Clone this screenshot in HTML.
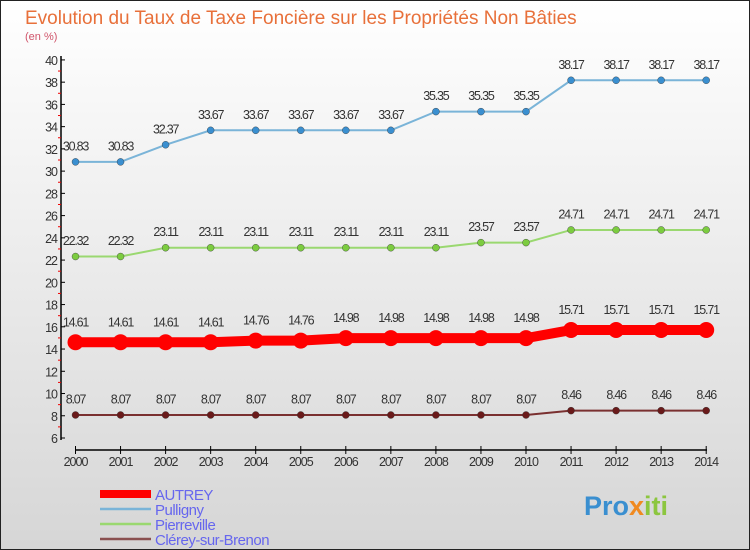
<!DOCTYPE html>
<html><head><meta charset="utf-8"><style>
body{margin:0;width:750px;height:550px;overflow:hidden;font-family:"Liberation Sans",sans-serif}
#c{position:absolute;left:0;top:0}
</style></head><body>
<svg id="c" width="750" height="550" xmlns="http://www.w3.org/2000/svg">
<defs><linearGradient id="bg" x1="0" y1="0" x2="0" y2="1"><stop offset="0" stop-color="#ffffff"/><stop offset="1" stop-color="#d6d6d6"/></linearGradient></defs>
<rect x="0.5" y="0.5" width="749" height="549" fill="url(#bg)" stroke="#222"/>
<text x="25" y="24" font-size="19" fill="#e8703a">Evolution du Taux de Taxe Foncière sur les Propriétés Non Bâties</text>
<text x="25" y="40" font-size="11" fill="#d0546a">(en %)</text>
<g id="axes"></g><g id="series"></g><g id="legend"></g>
<text x="584" y="515" font-size="27" font-weight="bold" fill="#3a8fd0">Pro<tspan fill="#f08a20">x</tspan><tspan fill="#8cc63f">iti</tspan></text>
</svg>
<script>
const years=[2000,2001,2002,2003,2004,2005,2006,2007,2008,2009,2010,2011,2012,2013,2014];
const yTicks=[6,8,10,12,14,16,18,20,22,24,26,28,30,32,34,36,38,40];
const names=["AUTREY","Pulligny","Pierreville","Clérey-sur-Brenon"];
const autrey=[14.61,14.61,14.61,14.61,14.76,14.76,14.98,14.98,14.98,14.98,14.98,15.71,15.71,15.71,15.71];
const pulligny=[30.83,30.83,32.37,33.67,33.67,33.67,33.67,33.67,35.35,35.35,35.35,38.17,38.17,38.17,38.17];
const pierreville=[22.32,22.32,23.11,23.11,23.11,23.11,23.11,23.11,23.11,23.57,23.57,24.71,24.71,24.71,24.71];
const clerey=[8.07,8.07,8.07,8.07,8.07,8.07,8.07,8.07,8.07,8.07,8.07,8.46,8.46,8.46,8.46];
const NS="http://www.w3.org/2000/svg";
const X=i=>75.5+i*45.05, Y=v=>438-(v-6)*11.12;
function mk(p,t,a){const e=document.createElementNS(NS,t);for(const k in a)e.setAttribute(k,a[k]);p.appendChild(e);return e;}
const ax=document.getElementById('axes');
let l=mk(ax,'line',{x1:61,y1:56,x2:61,y2:440,stroke:'#000','stroke-width':1.5});


l=mk(ax,'line',{x1:75,y1:450,x2:707,y2:450,stroke:'#000','stroke-width':1.5});


yTicks.forEach(v=>{
 mk(ax,'line',{x1:61,y1:Y(v),x2:65,y2:Y(v),stroke:'#000'});
 mk(ax,'line',{x1:58,y1:Y(v+1),x2:61,y2:Y(v+1),stroke:'#e00'}).setAttribute('opacity',v<40?1:0);
 const t=mk(ax,'text',{x:57,y:Y(v)+5,'font-size':12.5,fill:'#333','text-anchor':'end','letter-spacing':'-1'});
 t.textContent=v;
 
 
});
years.forEach((y,i)=>{
 mk(ax,'line',{x1:X(i),y1:446,x2:X(i),y2:454,stroke:'#000'});
 const t=mk(ax,'text',{x:X(i),y:466,'font-size':12.5,fill:'#333','text-anchor':'middle','letter-spacing':'-1'});
 t.textContent=y;
 
 
});
const sg=document.getElementById('series');
function series(d,col,dot,w,r,name){
 const g=mk(sg,'g',{});
 
 
 mk(g,'polyline',{points:d.map((v,i)=>X(i)+','+Y(v)).join(' '),fill:'none',stroke:col,'stroke-width':w});
 d.forEach((v,i)=>{
  const c=mk(g,'circle',{cx:X(i),cy:Y(v),r:r,fill:dot,stroke:dot==='#f00'?'none':'#333','stroke-width':0.4});
  
  
  const t=mk(g,'text',{x:X(i),y:Y(v)-r-8,'font-size':12.5,fill:'#333','text-anchor':'middle','letter-spacing':'-1.2'});
  t.textContent=v.toFixed(2).replace(/(\.\d)0$/,'$1');
  
  
 });
}
series(pulligny,'#7ab4d8','#3a8fd0',2,3.5,'series-pulligny');
series(pierreville,'#9ad870','#7ccc40',2,3.5,'series-pierreville');
series(clerey,'#7a3030','#6a1a1a',2,3.5,'series-clerey');
series(autrey,'#f00','#f00',10,8,'series-autrey');
const lg=document.getElementById('legend');
const cols=['#f00','#7ab4d8','#9ad870','#8a5050'],ws=[8,2.5,2.5,2.5];
names.forEach((n,i)=>{
 const y=494+i*15;
 const g=mk(lg,'g',{});
 
 
 mk(g,'line',{x1:100,y1:y,x2:151,y2:y,stroke:cols[i],'stroke-width':ws[i]});
 const t=mk(g,'text',{x:155,y:y+6,'font-size':15,fill:'#6666ee','letter-spacing':'-0.5'});
 t.textContent=n;
});
</script>
</body></html>
